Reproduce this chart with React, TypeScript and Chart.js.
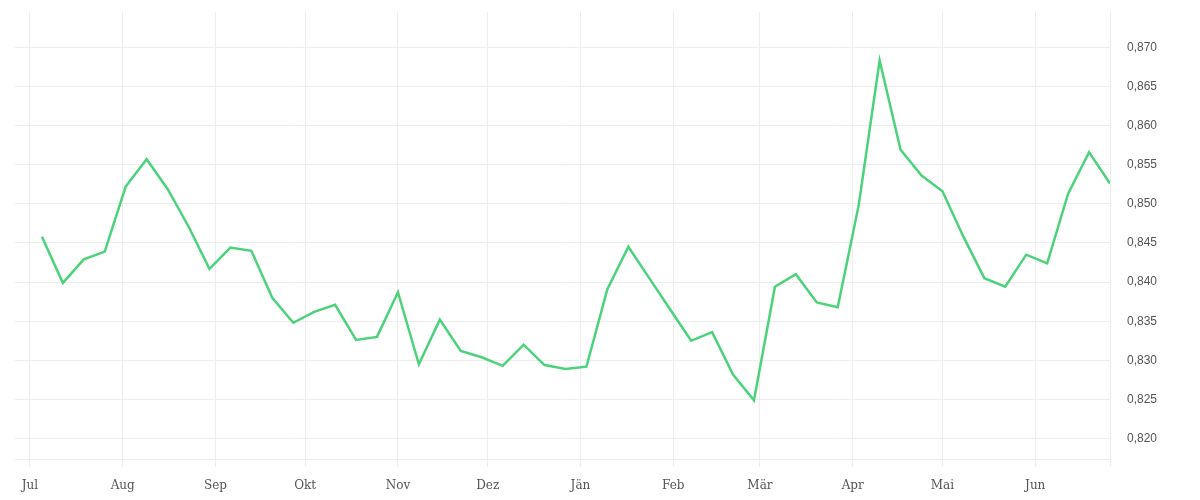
import React, { useEffect, useRef } from "react";
import { Chart, registerables } from "chart.js";

Chart.register(...registerables);

const dates: string[] = [
  "2023-07-05", "2023-07-12", "2023-07-19", "2023-07-26",
  "2023-08-02", "2023-08-09", "2023-08-16", "2023-08-23", "2023-08-30",
  "2023-09-06", "2023-09-13", "2023-09-20", "2023-09-27",
  "2023-10-04", "2023-10-11", "2023-10-18", "2023-10-25",
  "2023-11-01", "2023-11-08", "2023-11-15", "2023-11-22", "2023-11-29",
  "2023-12-06", "2023-12-13", "2023-12-20", "2023-12-27",
  "2024-01-03", "2024-01-10", "2024-01-17", "2024-01-24", "2024-01-31",
  "2024-02-07", "2024-02-14", "2024-02-21", "2024-02-28",
  "2024-03-06", "2024-03-13", "2024-03-20", "2024-03-27",
  "2024-04-03", "2024-04-10", "2024-04-17", "2024-04-24",
  "2024-05-01", "2024-05-08", "2024-05-15", "2024-05-22", "2024-05-29",
  "2024-06-05", "2024-06-12", "2024-06-19", "2024-06-26",
];

const rates: number[] = [
  0.8458, 0.8399, 0.8429, 0.8439, 0.8522, 0.8557, 0.8519, 0.8471, 0.8417, 0.8444,
  0.8440, 0.8380, 0.8348, 0.8362, 0.8371, 0.8326, 0.8330, 0.8387, 0.8295, 0.8352,
  0.8312, 0.8304, 0.8293, 0.8320, 0.8294, 0.8289, 0.8292, 0.8391, 0.8445, 0.8405,
  0.8365, 0.8325, 0.8336, 0.8282, 0.8249, 0.8394, 0.8410, 0.8374, 0.8368, 0.8498,
  0.8683, 0.8569, 0.8536, 0.8516, 0.8458, 0.8405, 0.8394, 0.8435, 0.8424, 0.8513,
  0.8566, 0.8526,
];

const monthStarts: string[] = [
  "2023-07-01", "2023-08-01", "2023-09-01", "2023-10-01", "2023-11-01", "2023-12-01",
  "2024-01-01", "2024-02-01", "2024-03-01", "2024-04-01", "2024-05-01", "2024-06-01",
];
const monthLabels: string[] = [
  "Jul", "Aug", "Sep", "Okt", "Nov", "Dez", "Jän", "Feb", "Mär", "Apr", "Mai", "Jun",
];

const xMinDate = "2023-06-26";
const xMaxDate = "2024-06-26";
const yMin = 0.8174;
const yMax = 0.8745;
const yStep = 0.005;

const DAY = 86400000;
const toDay = (s: string) => Date.parse(s + "T00:00:00Z") / DAY;

export default function App() {
  const ref = useRef<HTMLCanvasElement | null>(null);
  useEffect(() => {
    if (!ref.current) return;
    const monthDays = monthStarts.map(toDay);
    const xMax = toDay(xMaxDate);
    const chart = new Chart(ref.current, {
      type: "line",
      data: {
        datasets: [
          {
            data: dates.map((d, i) => ({ x: toDay(d), y: rates[i] })),
            borderColor: "#4cd27b",
            borderWidth: 2.5,
            pointRadius: 0,
            pointHoverRadius: 0,
            tension: 0,
            fill: false,
          },
        ],
      },
      options: {
        animation: false,
        responsive: true,
        maintainAspectRatio: false,
        layout: { padding: { left: 7, top: 4, right: 0, bottom: 0 } },
        plugins: { legend: { display: false }, tooltip: { enabled: false } },
        scales: {
          x: {
            type: "linear",
            min: toDay(xMinDate),
            max: xMax,
            afterBuildTicks: (scale: any) => {
              scale.ticks = [...monthDays, xMax].map((v) => ({ value: v }));
            },
            afterFit: (scale: any) => {
              scale.height = 41;
              scale.paddingLeft = 0;
              scale.paddingRight = 0;
            },
            grid: { color: "#ededed", lineWidth: 1, tickLength: 8, drawTicks: true },
            border: { color: "#ededed" },
            ticks: {
              autoSkip: false,
              maxRotation: 0,
              padding: 12,
              color: "#555",
              font: { family: "'DejaVu Serif'", size: 12 },
              callback: (v: any) => {
                const idx = monthDays.indexOf(Number(v));
                return idx >= 0 ? monthLabels[idx] : "";
              },
            },
          },
          y: {
            position: "right",
            min: yMin,
            max: yMax,
            afterFit: (scale: any) => {
              scale.width = 82;
              scale.paddingTop = 0;
              scale.paddingBottom = 0;
            },
            grid: { color: "#ededed", drawTicks: false },
            border: { color: "#ededed" },
            ticks: {
              stepSize: yStep,
              includeBounds: false,
              padding: 17,
              color: "#555",
              font: { family: "'Liberation Sans'", size: 12 },
              callback: (v: any) => Number(v).toFixed(3).replace(".", ","),
            },
          },
        },
      },
    });
    return () => chart.destroy();
  }, []);
  return (
    <div style={{ position: "relative", width: "100%", height: "492px" }}>
      <canvas ref={ref} />
    </div>
  );
}
